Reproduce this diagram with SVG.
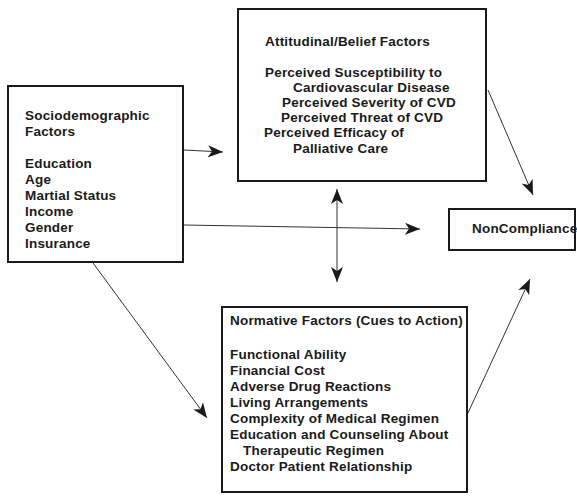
<svg xmlns="http://www.w3.org/2000/svg" width="577" height="496" viewBox="0 0 577 496">
<style>
.box{fill:#fff;stroke:#1a1a1a;stroke-width:2}
.t{font-family:"Liberation Sans",Arial,sans-serif;font-weight:bold;font-size:13.5px;letter-spacing:0.2px;fill:#1a1a1a}
.c{fill:none;stroke:#333;stroke-width:1}
</style>
<defs>
<marker id="ah" markerWidth="16" markerHeight="14" refX="15" refY="7" orient="auto" markerUnits="userSpaceOnUse">
<path d="M0,1 L15,7 L0,13 L4,7 Z" fill="#1a1a1a"/>
</marker>
<marker id="ahs" markerWidth="16" markerHeight="14" refX="1" refY="7" orient="auto" markerUnits="userSpaceOnUse">
<path d="M16,1 L1,7 L16,13 L12,7 Z" fill="#1a1a1a"/>
</marker>
</defs>
<rect width="577" height="496" fill="#fff"/>
<g id="connectors">
<line class="c" x1="184" y1="150" x2="223" y2="152" marker-end="url(#ah)"/>
<line class="c" x1="184" y1="225" x2="420" y2="229" marker-end="url(#ah)"/>
<line class="c" x1="93" y1="263" x2="207" y2="418" marker-end="url(#ah)"/>
<line class="c" x1="337" y1="189" x2="337" y2="282" marker-start="url(#ahs)" marker-end="url(#ah)"/>
<line class="c" x1="488" y1="90" x2="533" y2="195" marker-end="url(#ah)"/>
<line class="c" x1="467" y1="415" x2="530" y2="279" marker-end="url(#ah)"/>
</g>
<g id="sociodemographic">
<rect class="box" x="8" y="86" width="175" height="176"/>
<text class="t" x="25" y="120">Sociodemographic</text>
<text class="t" x="25" y="136">Factors</text>
<text class="t" x="25" y="168">Education</text>
<text class="t" x="25" y="184">Age</text>
<text class="t" x="25" y="200">Martial Status</text>
<text class="t" x="25" y="216">Income</text>
<text class="t" x="25" y="232">Gender</text>
<text class="t" x="25" y="248">Insurance</text>
</g>
<g id="attitudinal">
<rect class="box" x="238" y="9" width="248" height="172"/>
<text class="t" x="265" y="46">Attitudinal/Belief Factors</text>
<text class="t" x="265" y="77">Perceived Susceptibility to</text>
<text class="t" x="293" y="92">Cardiovascular Disease</text>
<text class="t" x="282" y="107">Perceived Severity of CVD</text>
<text class="t" x="281" y="122">Perceived Threat of CVD</text>
<text class="t" x="264" y="137">Perceived Efficacy of</text>
<text class="t" x="293" y="153">Palliative Care</text>
</g>
<g id="noncompliance">
<rect class="box" x="449" y="209" width="126" height="41"/>
<text class="t" x="472" y="233">NonCompliance</text>
</g>
<g id="normative">
<rect class="box" x="222" y="307" width="245" height="185"/>
<text class="t" x="230" y="325">Normative Factors (Cues to Action)</text>
<text class="t" x="230" y="359">Functional Ability</text>
<text class="t" x="230" y="375">Financial Cost</text>
<text class="t" x="230" y="391">Adverse Drug Reactions</text>
<text class="t" x="230" y="407">Living Arrangements</text>
<text class="t" x="230" y="423">Complexity of Medical Regimen</text>
<text class="t" x="230" y="439">Education and Counseling About</text>
<text class="t" x="243" y="455">Therapeutic Regimen</text>
<text class="t" x="230" y="471">Doctor Patient Relationship</text>
</g>
</svg>
